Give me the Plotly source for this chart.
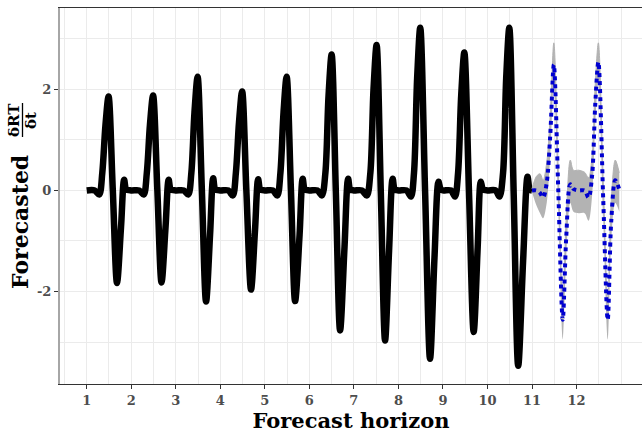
import plotly.graph_objects as go

obs_x = [
    1.00, 1.18, 1.28, 1.35, 1.42, 1.49, 1.585, 1.68, 1.77, 1.84, 1.89,
    2.00, 2.18, 2.28, 2.35, 2.42, 2.49, 2.585, 2.68, 2.77, 2.84, 2.89,
    3.00, 3.18, 3.28, 3.35, 3.42, 3.49, 3.585, 3.68, 3.77, 3.84, 3.89,
    4.00, 4.18, 4.28, 4.35, 4.42, 4.49, 4.585, 4.69, 4.78, 4.85, 4.90,
    5.00, 5.18, 5.28, 5.35, 5.42, 5.49, 5.585, 5.68, 5.78, 5.85, 5.90,
    6.00, 6.18, 6.28, 6.36, 6.43, 6.50, 6.595, 6.69, 6.79, 6.87, 6.92,
    7.00, 7.18, 7.29, 7.37, 7.44, 7.51, 7.605, 7.70, 7.79, 7.87, 7.92,
    8.00, 8.18, 8.28, 8.35, 8.42, 8.49, 8.60, 8.71, 8.81, 8.90, 8.95,
    9.00, 9.18, 9.27, 9.34, 9.41, 9.48, 9.585, 9.69, 9.78, 9.85, 9.90,
    10.00, 10.18, 10.27, 10.35, 10.42, 10.49, 10.59, 10.69, 10.80, 10.90, 10.95,
    11.00,
]
obs_y = [
    0, 0, -0.08, 0.35, 1.28, 1.86, 0.02, -1.83, -0.73, 0.21, 0.02,
    0, 0, -0.08, 0.35, 1.30, 1.88, 0.03, -1.82, -0.73, 0.21, 0.02,
    0, 0, -0.08, 0.35, 1.55, 2.25, 0.03, -2.20, -0.88, 0.24, 0.02,
    0, 0, -0.10, 0.35, 1.35, 1.96, 0.00, -1.96, -0.78, 0.22, 0.02,
    0, 0, -0.10, 0.35, 1.55, 2.25, 0.03, -2.19, -0.88, 0.23, 0.02,
    0, 0, -0.10, 0.35, 1.86, 2.69, -0.04, -2.77, -1.11, 0.23, 0.02,
    0, 0, -0.10, 0.35, 1.99, 2.88, -0.05, -2.97, -1.19, 0.23, 0.02,
    0, 0, -0.12, 0.35, 2.22, 3.22, -0.06, -3.33, -1.33, 0.17, 0.02,
    0, 0, -0.12, 0.35, 1.88, 2.73, -0.04, -2.80, -1.12, 0.17, 0.02,
    0, 0, -0.12, 0.35, 2.22, 3.22, -0.12, -3.47, -1.39, 0.27, 0.02,
    0,
]

# ---- forecast series and interval ----
fc_x = [11.00, 11.10, 11.18, 11.25, 11.33, 11.41, 11.49, 11.59, 11.69, 11.77,
        11.86, 11.93, 12.05, 12.18, 12.27, 12.35, 12.42, 12.49, 12.60, 12.70,
        12.78, 12.87, 12.96]
fc_y = [0.00, 0.00, -0.05, -0.14, 0.15, 1.10, 2.49, 0.00, -2.56, -0.90,
        0.12, 0.03, 0.00, 0.00, -0.14, 0.30, 1.70, 2.54, -0.20, -2.56,
        -0.60, 0.20, 0.02]
fc_lo = [-0.03, -0.30, -0.45, -0.55, -0.25, 0.70, 2.10, -0.40, -2.95, -1.30,
         -0.25, -0.42, -0.45, -0.45, -0.60, -0.10, 1.30, 2.15, -0.60, -2.95,
         -1.00, -0.25, -0.42]
fc_hi = [0.03, 0.28, 0.33, 0.20, 0.55, 1.50, 2.92, 0.40, -2.17, -0.50,
         0.60, 0.40, 0.40, 0.36, 0.25, 0.70, 2.10, 2.92, 0.20, -2.17,
         -0.20, 0.60, 0.35]

x_ticks = [1, 2, 3, 4, 5, 6, 7, 8, 9, 10, 11, 12]
y_ticks = [-2, 0, 2]
y_tick_text = ["-2", "0", "2"]

fig = go.Figure()

fig.add_trace(go.Scatter(x=obs_x, y=obs_y, mode="lines",
                         line=dict(color="black", width=6.5, shape="spline", smoothing=0.9),
                         showlegend=False, hoverinfo="skip"))
fig.add_trace(go.Scatter(x=fc_x, y=fc_lo, mode="lines",
                         line=dict(color="rgba(0,0,0,0)", width=0, shape="spline", smoothing=0.9),
                         showlegend=False, hoverinfo="skip"))
fig.add_trace(go.Scatter(x=fc_x, y=fc_hi, mode="lines", fill="tonexty",
                         fillcolor="#b3b3b3",
                         line=dict(color="#b3b3b3", width=1, shape="spline", smoothing=0.9),
                         showlegend=False, hoverinfo="skip"))
fig.add_trace(go.Scatter(x=fc_x, y=fc_y, mode="lines",
                         line=dict(color="#0000d0", width=4, dash="dot", shape="spline", smoothing=0.9),
                         showlegend=False, hoverinfo="skip"))

W, H = 642, 433
L, R, T, B = 60, 0, 8, 49
pw, ph = W - L - R, H - T - B

def px_x(p):
    return (p - L) / pw

def px_y(p):
    return (H - B - p) / ph

tickfont = dict(family="DejaVu Serif", size=13, color="#4d4d4d")

fig.update_layout(
    width=W, height=H,
    margin=dict(l=L, r=R, t=T, b=B),
    plot_bgcolor="white", paper_bgcolor="white",
    xaxis=dict(range=[0.40, 13.47], tickvals=x_ticks, ticktext=[f"<b>{v}</b>" for v in x_ticks],
               ticks="outside", ticklen=4, tickcolor="#333333", tickwidth=1,
               showline=True, linecolor="#333333", linewidth=1, mirror=True,
               showgrid=True, gridcolor="#ebebeb", gridwidth=1, zeroline=False,
               minor=dict(dtick=0.5, tick0=0.5, showgrid=True, gridcolor="#ebebeb", gridwidth=1),
               tickfont=tickfont,
               title=dict(text="<b>Forecast horizon</b>", standoff=3,
                          font=dict(family="DejaVu Serif", size=21, color="black"))),
    yaxis=dict(range=[-3.83, 3.61], tickvals=y_ticks, ticktext=[f"<b>{t}</b>" for t in y_tick_text],
               ticks="outside", ticklen=4, tickcolor="#333333", tickwidth=1,
               showline=True, linecolor="#a6a6a6", linewidth=2,
               showgrid=True, gridcolor="#ebebeb", gridwidth=1, zeroline=False,
               minor=dict(dtick=1, tick0=1, showgrid=True, gridcolor="#ebebeb", gridwidth=1),
               tickfont=tickfont),
)

# y-axis title: "Forecasted" + fraction δRT/δt (rotated)
fig.add_annotation(text="<b>Forecasted</b>", textangle=-90, xref="paper", yref="paper",
                   x=px_x(20), y=px_y(222), showarrow=False, xanchor="center", yanchor="middle",
                   font=dict(family="DejaVu Serif", size=22, color="black"))
fig.add_annotation(text="<b>δRT</b>", textangle=-90, xref="paper", yref="paper",
                   x=px_x(14), y=px_y(120), showarrow=False, xanchor="center", yanchor="middle",
                   font=dict(family="DejaVu Serif", size=15, color="black"))
fig.add_annotation(text="<b>δt</b>", textangle=-90, xref="paper", yref="paper",
                   x=px_x(31), y=px_y(120), showarrow=False, xanchor="center", yanchor="middle",
                   font=dict(family="DejaVu Serif", size=15, color="black"))
fig.add_shape(type="line", xref="paper", yref="paper",
              x0=px_x(22.5), x1=px_x(22.5), y0=px_y(103), y1=px_y(137),
              line=dict(color="black", width=1.3))

fig.write_html("out.html")
